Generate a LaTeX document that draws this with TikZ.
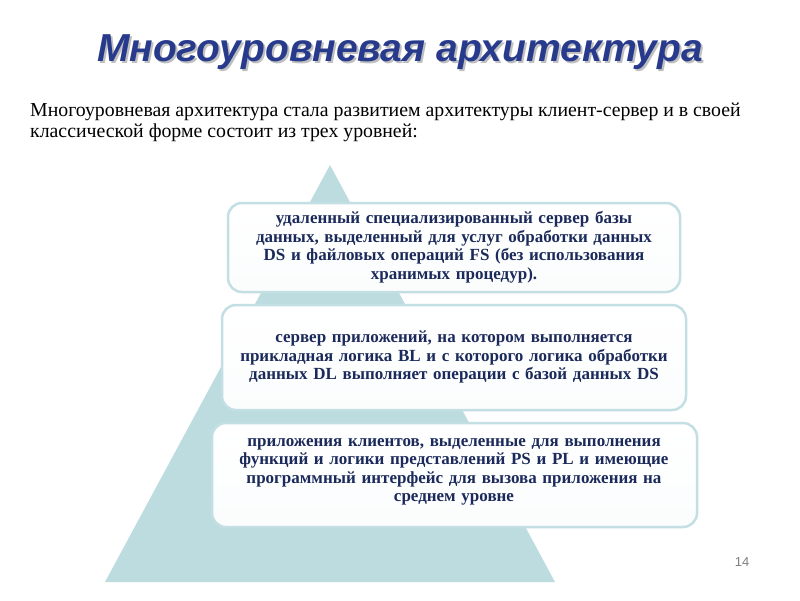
\documentclass[tikz,border=0pt]{standalone}
\usepackage{fontspec}
\setmainfont{Liberation Serif}
\newfontfamily\hsans{Liberation Sans}
\definecolor{tri}{HTML}{BCDCDF}
\definecolor{edge}{HTML}{C3DFE4}
\definecolor{navy}{HTML}{1B2A5A}
\definecolor{ttl}{HTML}{283A8C}
\tikzset{tier/.style={draw=edge,line width=2.5pt,rounded corners=14pt,top color=white,bottom color=white!93!edge},
 tiertext/.style={text=navy,font=\bfseries\fontsize{17}{18.5}\selectfont,align=center,text width=480pt}}
\begin{document}
\begin{tikzpicture}[x=1pt,y=-1pt]
\useasboundingbox (0,0) rectangle (800,600);
\fill[white] (0,0) rectangle (800,600);
\node (tshadow) [font=\hsans\bfseries\itshape\fontsize{39}{44}\selectfont,text=gray!50] at (402,54) {Многоуровневая архитектура};
\node (title) [font=\hsans\bfseries\itshape\fontsize{39}{44}\selectfont,text=ttl] at (400,52) {Многоуровневая архитектура};
\node (intro) [anchor=north west,align=left,font=\fontsize{19.8}{21}\selectfont,inner sep=0] at (30,103) {Многоуровневая архитектура стала развитием архитектуры клиент-сервер и в своей\\классической форме состоит из трех уровней:};
\fill[tri] (330,165) -- (555,582) -- (105,582) -- cycle;
\draw[tier] (228,203) rectangle (680,292);
\node (t1) [tiertext] at (454,247) {удаленный специализированный сервер базы\\данных, выделенный для услуг обработки данных\\DS и файловых операций FS (без использования\\хранимых процедур).};
\draw[tier] (222,305) rectangle (686,410);
\node (t2) [tiertext] at (454,357) {сервер приложений, на котором выполняется\\прикладная логика BL и с которого логика обработки\\данных DL выполняет операции с базой данных DS};
\draw[tier] (212,423) rectangle (697,527);
\node (t3) [tiertext] at (454,472) {приложения клиентов, выделенные для выполнения\\функций и логики представлений PS и PL и имеющие\\программный интерфейс для вызова приложения на\\среднем уровне};
\node (pg) [font=\hsans\fontsize{13}{15}\selectfont,text=gray] at (742,562) {14};
\end{tikzpicture}
\end{document}
